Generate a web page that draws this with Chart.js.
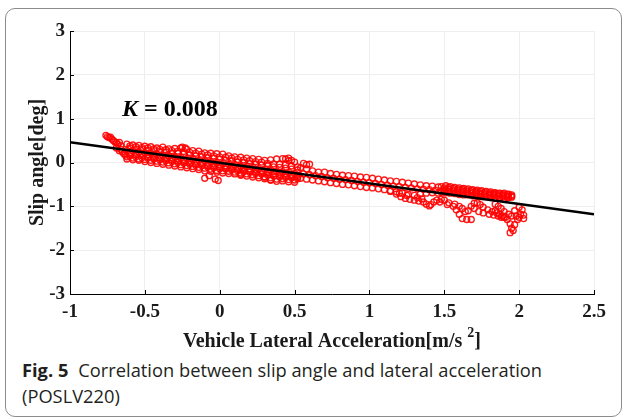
<!DOCTYPE html>
<html>
<head>
<meta charset="utf-8">
<title>Slip angle vs lateral acceleration</title>
<script src="https://cdn.jsdelivr.net/npm/chart.js@4.4.1/dist/chart.umd.min.js"></script>
<style>
    html, body { margin: 0; padding: 0; background: #fff; }
    body { width: 624px; height: 419px; position: relative; overflow: hidden; }
    #frame {
        position: absolute; left: 5px; top: 8px; width: 617px; height: 409px;
        box-sizing: border-box; border: 1px solid #8c8c8c; border-radius: 10px;
    }
    #plot { position: absolute; left: 0; top: 0; width: 624px; height: 350px; }
    #caption {
        position: absolute; left: 22px; top: 357px;
        font-family: "Open Sans", "Noto Sans", sans-serif; font-size: 18.3px;
        line-height: 26px; color: #231f20;
    }
    #caption b { font-weight: 700; margin-right: 10px; }
</style>
</head>
<body>
<div id="frame"></div>
<div id="plot"><canvas id="slipChart"></canvas></div>
<div id="caption"><b>Fig. 5</b>Correlation between slip angle and lateral acceleration<br>(POSLV220)</div>

<script>
// Axis ticks
const xTicks = [-1, -0.5, 0, 0.5, 1, 1.5, 2, 2.5];
const yTicks = [-3, -2, -1, 0, 1, 2, 3];

// Fitted line (slip angle gradient K)
const fitX = [-1, 2.5];
const fitY = [0.46, -1.18];
const gradientLabel = 'K';
const gradientValue = '0.008';

// Start of the run, low lateral acceleration
const startX = [-0.76, -0.75, -0.74, -0.73, -0.72, -0.71, -0.70, -0.69, -0.68, -0.67, -0.66, -0.66, -0.65, -0.64, -0.63, -0.69, -0.67];
const startY = [0.62, 0.59, 0.57, 0.58, 0.53, 0.50, 0.47, 0.45, 0.42, 0.46, 0.38, 0.30, 0.24, 0.20, 0.17, 0.33, 0.27];

// Dense core of the cloud, rows sharing two sets of acceleration columns
const coreX = [-0.62, -0.58, -0.54, -0.50, -0.46, -0.42, -0.38, -0.34, -0.30, -0.26, -0.22, -0.18, -0.14, -0.10, -0.06, -0.02, 0.02, 0.06, 0.10, 0.14, 0.18, 0.22, 0.26, 0.30, 0.34, 0.38, 0.42, 0.46, 0.50];
const coreXShift = [-0.60, -0.56, -0.52, -0.48, -0.44, -0.40, -0.36, -0.32, -0.28, -0.24, -0.20, -0.16, -0.12, -0.08, -0.04, 0.00, 0.04, 0.08, 0.12, 0.16, 0.20, 0.24, 0.28, 0.32, 0.36, 0.40, 0.44, 0.48, 0.52];
const coreRowA = [0.42, 0.40, 0.39, 0.37, 0.36, 0.33, 0.35, 0.31, 0.32, 0.33, 0.30, 0.27, 0.26, 0.22, 0.21, 0.20, 0.19, 0.15, 0.13, 0.12, 0.10, 0.09, 0.07, 0.05, 0.06, 0.08, 0.09, 0.04, 0.01];
const coreRowF = [0.38, 0.36, 0.34, 0.33, 0.31, 0.30, 0.29, 0.27, 0.26, 0.25, 0.23, 0.21, 0.19, 0.17, 0.15, 0.13, 0.12, 0.10, 0.07, 0.06, 0.04, 0.02, 0.01, -0.02, -0.03, -0.04, -0.05, -0.08, -0.10];
const coreRowB = [0.33, 0.31, 0.30, 0.28, 0.27, 0.25, 0.24, 0.22, 0.21, 0.19, 0.17, 0.15, 0.13, 0.11, 0.10, 0.07, 0.05, 0.04, 0.01, 0.00, -0.03, -0.04, -0.06, -0.08, -0.10, -0.11, -0.13, -0.15, -0.17];
const coreRowC = [0.27, 0.27, 0.24, 0.22, 0.21, 0.19, 0.16, 0.15, 0.13, 0.11, 0.09, 0.08, 0.05, 0.04, 0.02, 0.00, -0.02, -0.04, -0.05, -0.08, -0.09, -0.11, -0.14, -0.15, -0.17, -0.19, -0.21, -0.22, -0.25];
const coreRowH = [0.23, 0.22, 0.20, 0.18, 0.17, 0.15, 0.12, 0.11, 0.09, 0.07, 0.05, 0.03, 0.01, -0.01, -0.03, -0.05, -0.07, -0.08, -0.10, -0.12, -0.14, -0.16, -0.18, -0.20, -0.21, -0.23, -0.25, -0.27, -0.29];
const coreRowD = [0.19, 0.17, 0.16, 0.13, 0.12, 0.10, 0.08, 0.06, 0.04, 0.03, 0.00, -0.02, -0.03, -0.06, -0.08, -0.10, -0.11, -0.13, -0.15, -0.17, -0.18, -0.21, -0.22, -0.24, -0.26, -0.28, -0.30, -0.31, -0.33];
const coreRowG = [0.15, 0.13, 0.11, 0.10, 0.08, 0.06, 0.04, 0.02, 0.00, -0.01, -0.04, -0.06, -0.07, -0.10, -0.12, -0.14, -0.15, -0.17, -0.19, -0.21, -0.22, -0.25, -0.26, -0.29, -0.31, -0.33, -0.34, -0.35, -0.37];
const coreRowE = [0.13, 0.10, 0.08, 0.07, 0.05, 0.03, 0.01, -0.01, -0.03, -0.05, -0.07, -0.09, -0.11, -0.13, -0.15, -0.18, -0.19, -0.20, -0.22, -0.24, -0.26, -0.28, -0.30, -0.33, -0.35, -0.38, -0.37, -0.39, -0.40];
const coreRowI = [0.08, 0.06, 0.05, 0.02, 0.00, -0.02, -0.04, -0.06, -0.08, -0.10, -0.12, -0.14, -0.16, -0.19, -0.20, -0.22, -0.24, -0.25, -0.26, -0.29, -0.31, -0.33, -0.35, -0.37, -0.40, -0.43, -0.42, -0.44, -0.45];

// Scattered points off the core
const strayX = [-0.25, -0.23, -0.10, -0.07, -0.03, -0.01, 0.14, 0.30, 0.34, 0.44, 0.46, 0.48, 0.56, 0.58, 0.60];
const strayY = [0.35, 0.33, -0.36, -0.30, -0.38, -0.41, -0.27, -0.33, -0.40, 0.08, 0.10, 0.05, -0.02, -0.05, -0.04];

// Middle stretch
const midX = [0.54, 0.58, 0.62, 0.66, 0.70, 0.74, 0.78, 0.82, 0.86, 0.90, 0.94, 0.98, 1.02, 1.06, 1.10, 1.14, 1.18, 1.22, 1.26, 1.30, 1.34, 1.38, 1.42, 1.46];
const midXShift = [0.56, 0.60, 0.64, 0.68, 0.72, 0.76, 0.80, 0.84, 0.88, 0.92, 0.96, 1.00, 1.04, 1.08, 1.12, 1.16, 1.20, 1.24, 1.28, 1.32, 1.36, 1.40, 1.44, 1.48];
const midRowA = [-0.12, -0.15, -0.19, -0.22, -0.22, -0.25, -0.27, -0.29, -0.30, -0.31, -0.33, -0.34, -0.36, -0.38, -0.40, -0.42, -0.43, -0.45, -0.47, -0.49, -0.51, -0.53, -0.54, -0.56];
const midRowB = [-0.26, -0.28, -0.30, -0.32, -0.35, -0.36, -0.38, -0.39, -0.41, -0.43, -0.45, -0.46, -0.48, -0.50, -0.52, -0.54, -0.55, -0.57, -0.58, -0.60, -0.61, -0.62, -0.63, -0.64];
const midRowC = [-0.36, -0.38, -0.40, -0.42, -0.44, -0.46, -0.48, -0.50, -0.51, -0.53, -0.55, -0.57, -0.58, -0.60, -0.62, -0.64, -0.67, -0.70, -0.73, -0.75, -0.72, -0.70, -0.69, -0.70];

// Upper band at high lateral acceleration
const tailX = [1.48, 1.51, 1.54, 1.57, 1.60, 1.63, 1.66, 1.69, 1.72, 1.75, 1.78, 1.81, 1.84, 1.87, 1.90, 1.93];
const tailXShift = [1.50, 1.53, 1.56, 1.59, 1.62, 1.65, 1.68, 1.71, 1.74, 1.77, 1.80, 1.83, 1.86, 1.89, 1.92, 1.95];
const tailRowA = [-0.55, -0.53, -0.55, -0.57, -0.58, -0.59, -0.60, -0.62, -0.63, -0.64, -0.66, -0.67, -0.69, -0.70, -0.70, -0.72];
const tailRowD = [-0.58, -0.57, -0.59, -0.60, -0.61, -0.62, -0.63, -0.65, -0.66, -0.67, -0.69, -0.70, -0.71, -0.72, -0.73, -0.74];
const tailRowB = [-0.62, -0.61, -0.63, -0.64, -0.65, -0.66, -0.67, -0.69, -0.70, -0.71, -0.72, -0.73, -0.74, -0.75, -0.76, -0.77];
const tailRowE = [-0.65, -0.66, -0.67, -0.68, -0.69, -0.70, -0.71, -0.72, -0.73, -0.74, -0.75, -0.76, -0.77, -0.78, -0.79, -0.79];
const tailRowC = [-0.68, -0.69, -0.70, -0.71, -0.73, -0.74, -0.74, -0.76, -0.77, -0.78, -0.78, -0.79, -0.80, -0.81, -0.82, -0.80];

// Lower branches and loops
const loopX = [1.14, 1.18, 1.20, 1.21, 1.24, 1.25, 1.27, 1.30, 1.32, 1.33, 1.35, 1.36, 1.38, 1.40, 1.41, 1.43, 1.45, 1.47, 1.48, 1.50, 1.52, 1.53, 1.56, 1.57, 1.58, 1.60, 1.60, 1.62, 1.62, 1.64, 1.65, 1.68, 1.66, 1.68, 1.70, 1.70, 1.72, 1.73, 1.74, 1.76, 1.76, 1.79, 1.80, 1.82, 1.83, 1.84, 1.85, 1.86, 1.87, 1.88, 1.89, 1.90, 1.90, 1.91, 1.93, 1.95, 1.92, 1.94, 1.95, 1.94, 1.96, 1.97, 1.97, 1.98, 1.99, 2.00, 2.01, 2.02, 2.03, 2.03, 2.00, 1.88, 1.86, 1.84];
const loopY = [-0.66, -0.72, -0.70, -0.78, -0.82, -0.75, -0.84, -0.86, -0.80, -0.88, -0.83, -0.90, -0.95, -0.99, -0.96, -0.90, -0.86, -0.90, -0.84, -0.86, -0.96, -0.92, -1.00, -0.95, -1.08, -1.18, -1.00, -1.28, -1.05, -1.12, -1.30, -1.30, -1.10, -1.00, -0.93, -1.05, -0.92, -1.12, -0.96, -1.02, -1.15, -1.08, -1.18, -1.12, -1.20, -1.10, -1.15, -1.22, -1.18, -1.25, -1.22, -1.25, -1.12, -1.25, -1.18, -1.22, -1.30, -1.40, -1.50, -1.60, -1.55, -1.42, -1.10, -1.22, -1.30, -1.25, -1.18, -1.08, -1.20, -1.28, -1.02, -1.05, -1.00, -0.95];

function toPoints(xs, ys) {
    return xs.map((x, i) => ({ x: x, y: ys[i] }));
}

const measured = [].concat(
    toPoints(startX, startY),
    toPoints(coreX, coreRowA), toPoints(coreXShift, coreRowF), toPoints(coreXShift, coreRowB),
    toPoints(coreX, coreRowC), toPoints(coreXShift, coreRowH), toPoints(coreXShift, coreRowD),
    toPoints(coreXShift, coreRowG), toPoints(coreX, coreRowE), toPoints(coreX, coreRowI),
    toPoints(strayX, strayY),
    toPoints(midX, midRowA), toPoints(midXShift, midRowB), toPoints(midX, midRowC),
    toPoints(tailX, tailRowA), toPoints(tailXShift, tailRowD), toPoints(tailXShift, tailRowB),
    toPoints(tailXShift, tailRowE), toPoints(tailX, tailRowC),
    toPoints(loopX, loopY)
);

const serif = '"Liberation Serif", "Times New Roman", serif';

// Inward tick marks, the K annotation and the x title with its superscript
const axisDecor = {
    id: 'axisDecor',
    afterDraw(chart) {
        const { ctx, chartArea: a, scales: { x, y } } = chart;
        ctx.save();
        ctx.strokeStyle = '#000';
        ctx.lineWidth = 1;
        ctx.beginPath();
        xTicks.forEach(v => {
            const px = Math.round(x.getPixelForValue(v)) + 0.5;
            ctx.moveTo(px, a.bottom);
            ctx.lineTo(px, a.bottom - 4);
        });
        yTicks.forEach(v => {
            const py = Math.round(y.getPixelForValue(v)) + 0.5;
            ctx.moveTo(a.left, py);
            ctx.lineTo(a.left + 4, py);
        });
        ctx.stroke();

        // K = 0.008
        ctx.fillStyle = '#000';
        ctx.textBaseline = 'alphabetic';
        ctx.textAlign = 'left';
        let kx = x.getPixelForValue(-0.653);
        const ky = y.getPixelForValue(1.06);
        ctx.font = 'italic bold 24px ' + serif;
        ctx.fillText(gradientLabel, kx, ky);
        kx += ctx.measureText(gradientLabel).width;
        ctx.font = 'bold 24px ' + serif;
        ctx.fillText(' = ' + gradientValue, kx, ky);

        // x title: Vehicle Lateral Acceleration[m/s 2]
        const main = 'Vehicle Lateral Acceleration[m/s ';
        const sup = '2';
        const close = ']';
        ctx.fillStyle = '#1a1a1a';
        ctx.font = 'bold 20px ' + serif;
        const wMain = ctx.measureText(main).width;
        const wClose = ctx.measureText(close).width;
        ctx.font = 'bold 14px ' + serif;
        const wSup = ctx.measureText(sup).width;
        let tx = (a.left + a.right) / 2 - (wMain + wSup + wClose) / 2;
        const ty = 347;
        ctx.font = 'bold 20px ' + serif;
        ctx.fillText(main, tx, ty);
        tx += wMain;
        ctx.font = 'bold 14px ' + serif;
        ctx.fillText(sup, tx, ty - 10);
        tx += wSup;
        ctx.font = 'bold 20px ' + serif;
        ctx.fillText(close, tx, ty);
        ctx.restore();
    }
};

const ctx = document.getElementById('slipChart').getContext('2d');
new Chart(ctx, {
    type: 'scatter',
    data: {
        datasets: [{
            type: 'line',
            label: 'Fit',
            data: toPoints(fitX, fitY),
            borderColor: '#000',
            borderWidth: 2.5,
            pointRadius: 0,
            fill: false
        }, {
            label: 'Measured',
            data: measured,
            pointStyle: 'circle',
            pointRadius: 3,
            borderWidth: 1.35,
            borderColor: 'rgba(255, 0, 0, 0.9)',
            backgroundColor: 'rgba(0, 0, 0, 0)'
        }]
    },
    options: {
        responsive: true,
        maintainAspectRatio: false,
        animation: false,
        layout: { padding: { left: 0, right: 30, top: 31, bottom: 0 } },
        plugins: {
            legend: { display: false },
            tooltip: { enabled: false }
        },
        scales: {
            x: {
                type: 'linear',
                min: -1,
                max: 2.5,
                afterBuildTicks: scale => { scale.ticks = xTicks.map(v => ({ value: v })); },
                afterFit: scale => { scale.height = 56; },
                grid: { color: '#eeeeee', lineWidth: 1, drawTicks: false },
                border: { color: '#000', width: 1 },
                ticks: {
                    padding: 7,
                    color: '#1a1a1a',
                    font: { family: serif, size: 19, weight: 'bold' },
                    callback: v => String(v)
                }
            },
            y: {
                type: 'linear',
                min: -3,
                max: 3,
                afterBuildTicks: scale => { scale.ticks = yTicks.map(v => ({ value: v })); },
                afterFit: scale => { scale.width = 70; },
                grid: { color: '#eeeeee', lineWidth: 1, drawTicks: false },
                border: { color: '#000', width: 1 },
                ticks: {
                    padding: 5,
                    color: '#1a1a1a',
                    font: { family: serif, size: 19, weight: 'bold' },
                    callback: v => String(v)
                },
                title: {
                    display: true,
                    text: 'Slip angle[deg]',
                    color: '#1a1a1a',
                    padding: { top: 26, bottom: 0 },
                    font: { family: serif, size: 20, weight: 'bold' }
                }
            }
        }
    },
    plugins: [axisDecor]
});
</script>
</body>
</html>
